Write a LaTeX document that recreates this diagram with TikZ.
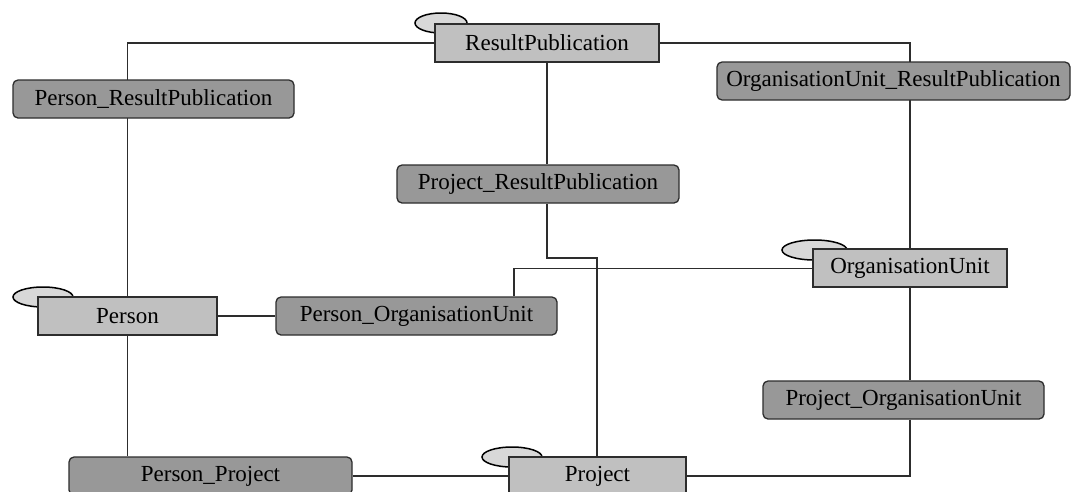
\documentclass[tikz,border=0pt]{standalone}
\usepackage{fontspec}
\setmainfont{Liberation Serif}
\usetikzlibrary{shapes.geometric,backgrounds}
\definecolor{entfill}{RGB}{192,192,192}
\definecolor{relfill}{RGB}{152,152,152}
\definecolor{ellfill}{RGB}{216,216,216}
\definecolor{edgecol}{RGB}{45,45,45}
\begin{document}
\begin{tikzpicture}[x=1pt,y=-1pt,
  entity/.style={draw=edgecol, line width=1.3pt, fill=entfill, minimum height=38pt, inner sep=0pt, font=\fontsize{23}{27}\selectfont},
  relbox/.style={draw=edgecol, line width=1.3pt, fill=relfill, rounded corners=5pt, minimum height=38pt, inner sep=0pt, font=\fontsize{23}{27}\selectfont},
  attr/.style={ellipse, draw=black, line width=1.5pt, fill=ellfill, inner sep=0pt},
  conn/.style={draw=edgecol, line width=1.1pt}]
\useasboundingbox (0,0) rectangle (1075,491);
% attribute ellipses (behind entities)
\node[attr, minimum width=52pt, minimum height=20pt] (eRP) at (441,23) {};
\node[attr, minimum width=60pt, minimum height=20pt] (ePe) at (43,297) {};
\node[attr, minimum width=60pt, minimum height=20pt] (ePr) at (512,457) {};
\node[attr, minimum width=65pt, minimum height=20pt] (eOU) at (814.5,250) {};
% entities
\node[entity, minimum width=224pt] (RP) at (547,43) {ResultPublication};
\node[entity, minimum width=179pt] (Person) at (127.5,316) {Person};
\node[entity, minimum width=194pt] (OU) at (910,268) {OrganisationUnit};
\node[entity, minimum width=177pt] (Project) at (597.5,476) {Project};
% relationships
\node[relbox, minimum width=281pt] (PRP) at (153.5,99) {Person\_ResultPublication};
\node[relbox, minimum width=353pt] (OURP) at (893.5,81) {OrganisationUnit\_ResultPublication};
\node[relbox, minimum width=282pt] (PrRP) at (538,184) {Project\_ResultPublication};
\node[relbox, minimum width=281pt] (POU) at (416.5,316) {Person\_OrganisationUnit};
\node[relbox, minimum width=281pt] (PrOU) at (903.5,400) {Project\_OrganisationUnit};
\node[relbox, minimum width=283pt] (PPr) at (210.5,476) {Person\_Project};
\coordinate (k1) at (514,268.5);
\coordinate (k2) at (547,258);
\coordinate (k3) at (597,258);
\begin{scope}[on background layer]
\fill[white] (0,0) rectangle (1075,491);
\draw[conn] (RP.west) -| (Person.north);
\draw[conn] (Person.south) -- (Person.south |- PPr.north);
\draw[conn] (PPr.east) -- (Project.west);
\draw[conn] (Person.east) -- (POU.west);
\draw[conn] (k1 |- POU.north) -- (k1) -- (k1 -| OU.west);
\draw[conn] (RP.south) -- (RP.south |- PrRP.north);
\draw[conn] (k2 |- PrRP.south) -- (k2) -- (k3) -- (k3 |- Project.north);
\draw[conn] (RP.east) -| (OU.north);
\draw[conn] (OU.south) -- (OU.south |- PrOU.north);
\draw[conn] (OU.south |- PrOU.south) |- (Project.east);
\end{scope}
\end{tikzpicture}
\end{document}
